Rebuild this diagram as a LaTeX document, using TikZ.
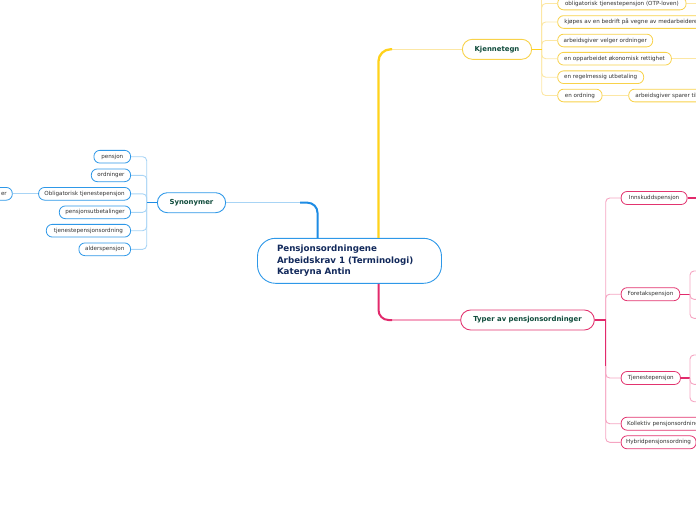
\documentclass[tikz,border=0pt]{standalone}
\usepackage{fontspec}
\setmainfont{DejaVu Sans}
\definecolor{bluD}{HTML}{1E8CE4}
\definecolor{bluL}{HTML}{A8D4F5}
\definecolor{bluB}{HTML}{2E98E8}
\definecolor{yelD}{HTML}{FFD21C}
\definecolor{yelL}{HTML}{FCE7A4}
\definecolor{yelB}{HTML}{F8D24A}
\definecolor{pnkD}{HTML}{E22A6C}
\definecolor{pnkL}{HTML}{F5A5C2}
\definecolor{pnkB}{HTML}{E2346F}
\definecolor{ttl}{HTML}{0F4B3B}
\definecolor{rootc}{HTML}{12295B}
\definecolor{leafc}{HTML}{333333}
\begin{document}
\begin{tikzpicture}[x=1pt,y=-1pt,
  leaf/.style={draw, fill=white, rounded corners=6pt, line width=0.8pt, minimum height=12.7pt,
    inner xsep=2pt, inner ysep=0pt, font=\fontsize{5.6}{6}\selectfont, text=leafc},
  bleaf/.style={leaf, draw=bluB, anchor=east},
  yleaf/.style={leaf, draw=yelB, anchor=west},
  pleaf/.style={leaf, draw=pnkB, anchor=west, minimum height=13pt},
  topic/.style={draw, fill=white, rounded corners=10pt, line width=0.9pt, minimum height=20pt,
    inner xsep=2pt, font=\fontsize{6.9}{8}\selectfont\bfseries, text=ttl},
  lnk/.style={line width=0.9pt, rounded corners=4pt},
  trunk/.style={line width=2pt},
  stub/.style={line width=1.5pt}
]
\useasboundingbox (0,0) rectangle (696,520);
\clip (0,0) rectangle (696,520);

% root
\node (root) [draw=bluB, line width=0.9pt, rounded corners=18pt, minimum width=184pt, minimum height=45pt,
  text width=145pt, align=left, inner xsep=19.5pt, font=\fontsize{8.7}{11.5}\selectfont\bfseries, text=rootc]
  at (349.5,260.8) {Pensjonsordningene\\Arbeidskrav 1 (Terminologi)\\Kateryna Antin};

% topics
\node[topic, draw=bluB, minimum width=68.3pt] (syn) at (191.5,202.7) {Synonymer};
\node[topic, draw=yelB, minimum width=69.3pt] (kjen) at (497,49.3) {Kjennetegn};
\node[topic, draw=pnkB, minimum width=133.7pt] (typer) at (527.5,320) {Typer av pensjonsordninger};

% main connectors
\coordinate (bj) at (300,202.7);
\coordinate (yj) at (392,49.3);
\coordinate (pj) at (392,320);
\draw[bluL, line width=1.2pt] (syn.east) -- (bj);
\draw[bluD, trunk, rounded corners=10pt] ([xshift=-32pt]root.north) |- (bj);
\draw[yelL, line width=1.2pt] (yj) -- (kjen.west);
\draw[yelD, line width=2.3pt, rounded corners=12pt] ([xshift=29pt]root.north) |- (yj);
\draw[pnkL, line width=1.2pt] (pj) -- (typer.west);
\draw[pnkD, trunk, rounded corners=10pt] ([xshift=29pt]root.south) |- (pj);

% Synonymer children
\node[bleaf, minimum width=36.7pt] (s1) at (131,156.7) {pensjon};
\node[bleaf, minimum width=39.3pt] (s2) at (131,175.3) {ordninger};
\node[bleaf, minimum width=92pt] (s3) at (131,193.8) {Obligatorisk tjenestepensjon};
\node[bleaf, minimum width=71.3pt] (s4) at (131,212.3) {pensjonsutbetalinger};
\node[bleaf, minimum width=84.3pt] (s5) at (131,230.7) {tjenestepensjonsordning};
\node[bleaf, minimum width=51.7pt] (s6) at (131,249.3) {alderspensjon};
\node[leaf, draw=bluB, anchor=east, text width=24pt, align=right, inner xsep=5.5pt] (s0) at (12.7,193.8) {er};
\coordinate (sj) at (146.7,202.7);
\foreach \n in {s1,s2,s3,s4,s5,s6} \draw[bluL, lnk] (\n.east) -| (sj);
\draw[bluD, stub] (syn.west) -- (sj);
\draw[bluL, lnk] (s0.east) -- (s3.west);

% Kjennetegn children
\node[yleaf, minimum width=128.4pt] (k1) at (557.3,3.5) {obligatorisk tjenestepensjon (OTP-loven)};
\node[yleaf, inner xsep=6.7pt] (k2) at (557.3,22) {kjøpes av en bedrift på vegne av medarbeidere};
\node[yleaf, minimum width=95pt] (k3) at (557.3,40.5) {arbeidsgiver velger ordninger};
\node[yleaf, minimum width=113.7pt] (k4) at (557.3,58.7) {en opparbeidet økonomisk rettighet};
\node[yleaf, minimum width=86pt] (k5) at (557.3,77.2) {en regelmessig utbetaling};
\node[yleaf, minimum width=44.4pt] (k6) at (557.3,95.5) {en ordning};
\node[yleaf, inner xsep=6.7pt] (k7) at (628.3,95.5) {arbeidsgiver sparer til};
\coordinate (kj) at (541.7,49.3);
\coordinate (kt) at (541.7,-2);
\draw[yelL, lnk] (kj) -- (kt);
\foreach \n in {k1,k2,k3,k4,k5,k6} \draw[yelL, lnk] (kj) |- (\n.west);
\draw[yelD, stub] (kjen.east) -- (kj);
\coordinate (k1e) at (697,3.5);
\coordinate (k4e) at (697,58.7);
\draw[yelL, lnk] (k1.east) -- (k1e);
\draw[yelL, lnk] (k4.east) -- (k4e);
\draw[yelL, lnk] (k6.east) -- (k7.west);

% Typer children
\node[pleaf, minimum width=66pt] (p1) at (620.7,198) {Innskuddspensjon};
\node[pleaf, minimum width=58.7pt] (p2) at (620.7,294.2) {Foretakspensjon};
\node[pleaf, minimum width=59.3pt] (p3) at (620.7,378) {Tjenestepensjon};
\node[pleaf, inner xsep=6pt] (p4) at (620.7,423.7) {Kollektiv pensjonsordning};
\node[pleaf, minimum width=75pt] (p5) at (620.7,442.3) {Hybridpensjonsordning};
\coordinate (tj) at (605.7,320);
\coordinate (tjd) at (605.7,366);
\foreach \n in {p1,p2,p3,p4,p5} \draw[pnkL, lnk] (tj) |- (\n.west);
\draw[pnkD, line width=1.3pt] (tj) -- (tjd);
\draw[pnkD, stub] (typer.east) -- (tj);

\coordinate (ie) at (697,198);
\draw[pnkD, stub] (p1.east) -- (ie);

\coordinate (fj) at (690,294.2);
\coordinate (fa) at (697,271);
\coordinate (fb) at (697,299.3);
\coordinate (fc) at (697,318.3);
\draw[pnkD, line width=1.2pt] (p2.east) -- (fj);
\foreach \c in {fa,fb,fc} \draw[pnkL, lnk] (fj) |- (\c);

\coordinate (gj) at (690,378);
\coordinate (ga) at (697,355);
\coordinate (gb) at (697,384.3);
\coordinate (gc) at (697,401.7);
\draw[pnkD, line width=1.2pt] (p3.east) -- (gj);
\foreach \c in {ga,gb,gc} \draw[pnkL, lnk] (gj) |- (\c);
\end{tikzpicture}
\end{document}
